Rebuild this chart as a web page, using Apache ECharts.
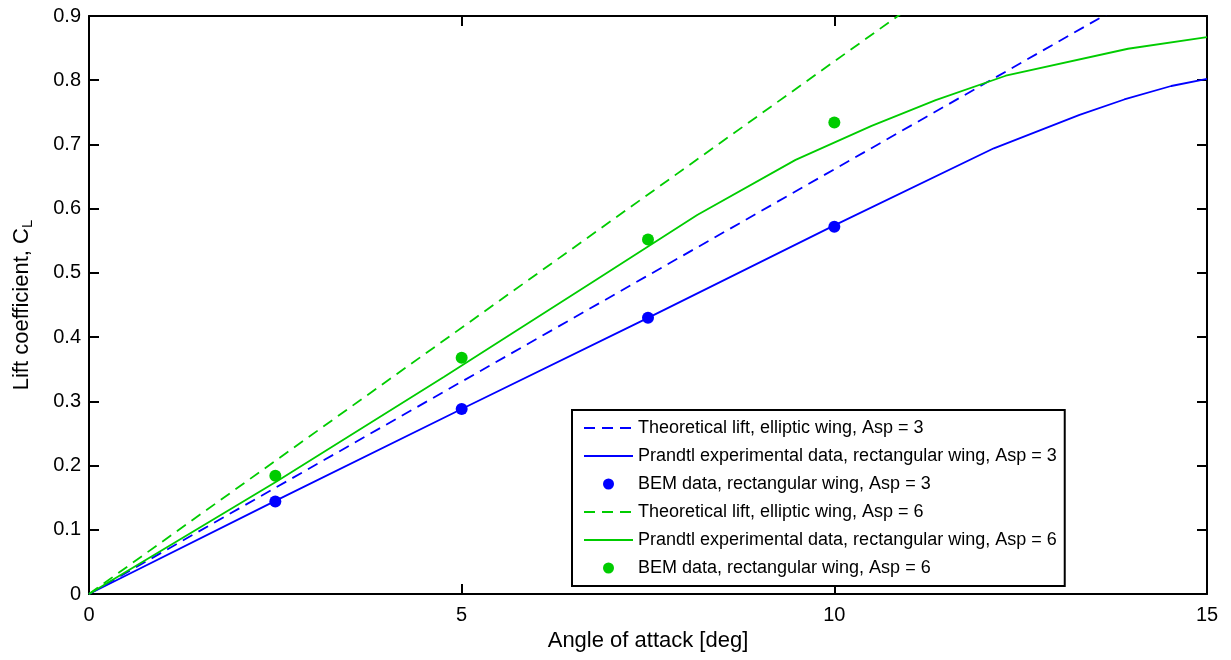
<!DOCTYPE html>
<html>
<head>
<meta charset="utf-8">
<script src="https://cdn.jsdelivr.net/npm/echarts@6/dist/echarts.min.js"></script>
<style>
html,body{margin:0;padding:0;background:#fff;}
#chart{width:1231px;height:660px;}
</style>
</head>
<body>
<div id="chart"></div>
<script>
// ---- data ----
const theoAlpha = [0, 15];
const theoCL3 = [0, 0.992];
const theoCL6 = [0, 1.244];

const expAlpha3 = [0, 2.5, 5, 7.5, 10, 12.14, 13.29, 13.89, 14.52, 15];
const expCL3    = [0, 0.145, 0.288, 0.43, 0.574, 0.694, 0.746, 0.770, 0.791, 0.802];

const expAlpha6 = [0, 2.5, 4.76, 6.8, 8.16, 9.48, 10.5, 11.36, 12.3, 13.94, 15];
const expCL6    = [0, 0.174, 0.338, 0.489, 0.59, 0.676, 0.729, 0.769, 0.807, 0.849, 0.867];

const bemAlpha = [2.5, 5, 7.5, 10];
const bemCL3 = [0.144, 0.288, 0.430, 0.572];
const bemCL6 = [0.184, 0.368, 0.552, 0.734];

const seriesNames = [
  'Theoretical lift, elliptic wing, Asp = 3',
  'Prandtl experimental data, rectangular wing, Asp = 3',
  'BEM data, rectangular wing, Asp = 3',
  'Theoretical lift, elliptic wing, Asp = 6',
  'Prandtl experimental data, rectangular wing, Asp = 6',
  'BEM data, rectangular wing, Asp = 6'
];
const xLabel = 'Angle of attack [deg]';
const yLabel = 'Lift coefficient, C';
const ySub = 'L';

const BLUE = '#0000ff';
const GREEN = '#00cc00';
const FONT = '"Liberation Sans", Arial, Helvetica, sans-serif';

function pairs(xs, ys) { return xs.map((x, i) => [x, ys[i]]); }

const chart = echarts.init(document.getElementById('chart'), null, {renderer: 'canvas'});

const axisCommon = {
  axisLine: {show: true, onZero: false, lineStyle: {color: '#000', width: 2}},
  axisTick: {show: true, inside: true, length: 10, lineStyle: {color: '#000', width: 2}},
  splitLine: {show: false}
};

const hiddenMarker = {color: 'rgba(0,0,0,0)', borderWidth: 0, opacity: 0};
const legendData = seriesNames.map((n, i) =>
  (i % 3 === 2) ? {name: n} : {name: n, itemStyle: hiddenMarker});

const option = {
  backgroundColor: '#fff',
  animation: false,
  grid: {left: 89, right: 24, top: 16, bottom: 66, containLabel: false},
  xAxis: [
    Object.assign({
      type: 'value', min: 0, max: 15, interval: 5, position: 'bottom',
      name: xLabel, nameLocation: 'middle', nameGap: 36,
      nameTextStyle: {fontSize: 22, color: '#000', fontFamily: FONT},
      axisLabel: {fontSize: 20, color: '#000', margin: 11, fontFamily: FONT}
    }, axisCommon),
    Object.assign({
      type: 'value', min: 0, max: 15, interval: 5, position: 'top',
      axisLabel: {show: false}
    }, axisCommon)
  ],
  yAxis: [
    Object.assign({
      type: 'value', min: 0, max: 0.9, interval: 0.1, position: 'left',
      name: '{a|' + yLabel + '}{b|' + ySub + '}', nameLocation: 'middle', nameGap: 54,
      nameTextStyle: {
        color: '#000', fontFamily: FONT,
        rich: {
          a: {fontSize: 22, color: '#000', fontFamily: FONT},
          b: {fontSize: 15, color: '#000', fontFamily: FONT, verticalAlign: 'bottom', padding: [12, 0, 0, 0]}
        }
      },
      axisLabel: {fontSize: 20, color: '#000', margin: 8, fontFamily: FONT}
    }, axisCommon),
    Object.assign({
      type: 'value', min: 0, max: 0.9, interval: 0.1, position: 'right',
      axisLabel: {show: false}
    }, axisCommon)
  ],
  legend: {
    orient: 'vertical',
    left: 572, top: 410,
    padding: [4, 8, 4, 11],
    itemGap: 0,
    itemWidth: 49,
    itemHeight: 11,
    itemStyle: {borderWidth: 0},
    backgroundColor: '#fff',
    borderColor: '#000',
    borderWidth: 2,
    borderRadius: 0,
    textStyle: {fontSize: 18, color: '#000', fontFamily: FONT, lineHeight: 28},
    data: legendData
  },
  series: [
    {name: seriesNames[0], type: 'line', data: pairs(theoAlpha, theoCL3), symbol: 'none',
      lineStyle: {color: BLUE, width: 1.8, type: [11, 7]}, itemStyle: {color: BLUE}, clip: true},
    {name: seriesNames[1], type: 'line', data: pairs(expAlpha3, expCL3), symbol: 'none',
      lineStyle: {color: BLUE, width: 1.8}, itemStyle: {color: BLUE}, clip: true},
    {name: seriesNames[2], type: 'scatter', data: pairs(bemAlpha, bemCL3), symbol: 'circle', symbolSize: 12,
      itemStyle: {color: BLUE, opacity: 1}},
    {name: seriesNames[3], type: 'line', data: pairs(theoAlpha, theoCL6), symbol: 'none',
      lineStyle: {color: GREEN, width: 1.8, type: [11, 7]}, itemStyle: {color: GREEN}, clip: true},
    {name: seriesNames[4], type: 'line', data: pairs(expAlpha6, expCL6), symbol: 'none',
      lineStyle: {color: GREEN, width: 1.8}, itemStyle: {color: GREEN}, clip: true},
    {name: seriesNames[5], type: 'scatter', data: pairs(bemAlpha, bemCL6), symbol: 'circle', symbolSize: 12,
      itemStyle: {color: GREEN, opacity: 1}}
  ]
};
chart.setOption(option);
</script>
</body>
</html>
